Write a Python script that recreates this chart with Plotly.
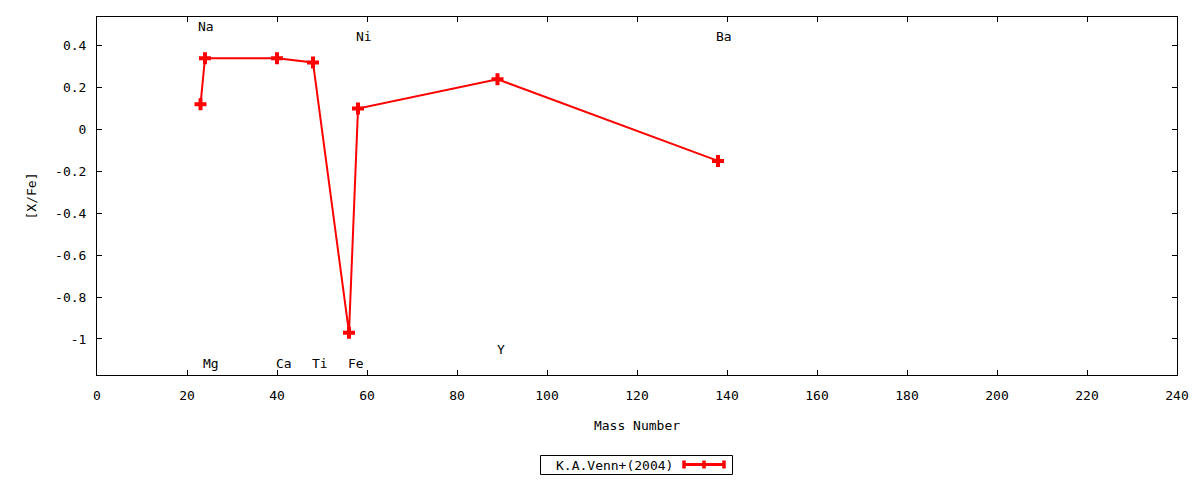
import plotly.graph_objects as go

# ---- data ----
elements = ["Na", "Mg", "Ca", "Ti", "Fe", "Ni", "Y", "Ba"]
mass_number = [23, 24, 40, 48, 56, 58, 89, 138]
x_fe = [0.12, 0.34, 0.34, 0.32, -0.97, 0.10, 0.24, -0.15]
series_name = "K.A.Venn+(2004)"
x_ticks = [0, 20, 40, 60, 80, 100, 120, 140, 160, 180, 200, 220, 240]
y_ticks = [-1, -0.8, -0.6, -0.4, -0.2, 0, 0.2, 0.4]
y_tick_text = ["-1", "-0.8", "-0.6", "-0.4", "-0.2", "0", "0.2", "0.4"]

# label placement (layout only)
label_x = [22.2, 23.3, 39.5, 47.5, 55.5, 57.4, 88.7, 137.4]
label_y = [0.49, -1.115, -1.115, -1.115, -1.115, 0.443, -1.048, 0.443]

FONT = "DejaVu Sans Mono"
RED = "#ff0000"

fig = go.Figure()
fig.add_trace(go.Scatter(
    x=mass_number, y=x_fe, mode="lines+markers", name=series_name,
    line=dict(color=RED, width=2),
    marker=dict(symbol="cross", size=10, color=RED, line=dict(width=0)),
    showlegend=False,
))

annotations = []
for el, lx, ly in zip(elements, label_x, label_y):
    annotations.append(dict(
        x=lx, y=ly, xref="x", yref="y", text=el, showarrow=False,
        xanchor="left", yanchor="middle", borderpad=0,
        font=dict(family=FONT, size=13, color="black"),
    ))

# custom legend (text left, sample right) in paper coords
L, R, T, B = 97, 1177, 17, 375
def px(v):
    return (v - L) / (R - L)
def py(v):
    return (B - v) / (B - T)

annotations.append(dict(
    x=px(555), y=py(465), xref="paper", yref="paper", text=series_name,
    showarrow=False, xanchor="left", yanchor="middle", borderpad=0,
    font=dict(family=FONT, size=13, color="black"),
))

shapes = [
    dict(type="rect", xref="paper", yref="paper", x0=px(540.5), x1=px(732.5),
         y0=py(474.5), y1=py(455.5), line=dict(color="black", width=1)),
    dict(type="line", xref="paper", yref="paper", x0=px(683), x1=px(725),
         y0=py(464.5), y1=py(464.5), line=dict(color=RED, width=3)),
]
for cx in (684, 704, 724):
    shapes.append(dict(type="line", xref="paper", yref="paper",
                       x0=px(cx), x1=px(cx), y0=py(460.5), y1=py(468.5),
                       line=dict(color=RED, width=3.5)))

axis_common = dict(
    showline=True, linecolor="black", linewidth=1, mirror="allticks",
    ticks="inside", ticklen=5, tickwidth=1, tickcolor="black",
    showgrid=False, zeroline=False,
    tickfont=dict(family=FONT, size=13, color="black"),
)

fig.update_layout(
    width=1200, height=480,
    margin=dict(l=97, r=23, t=17, b=105),
    paper_bgcolor="white", plot_bgcolor="white",
    font=dict(family=FONT, size=13, color="black"),
    xaxis=dict(range=[0, 240], tickvals=x_ticks,
               title=dict(text="Mass Number", font=dict(family=FONT, size=13), standoff=19),
               ticklabelstandoff=8, **axis_common),
    yaxis=dict(range=[-1.172, 0.537], tickvals=y_ticks, ticktext=y_tick_text,
               title=dict(text="[X/Fe]", font=dict(family=FONT, size=13), standoff=15),
               ticklabelstandoff=7, **axis_common),
    annotations=annotations,
    shapes=shapes,
)

fig.write_html("out.html", config={"displayModeBar": False},
               post_script="document.body.style.margin='0';document.body.style.padding='0';")
